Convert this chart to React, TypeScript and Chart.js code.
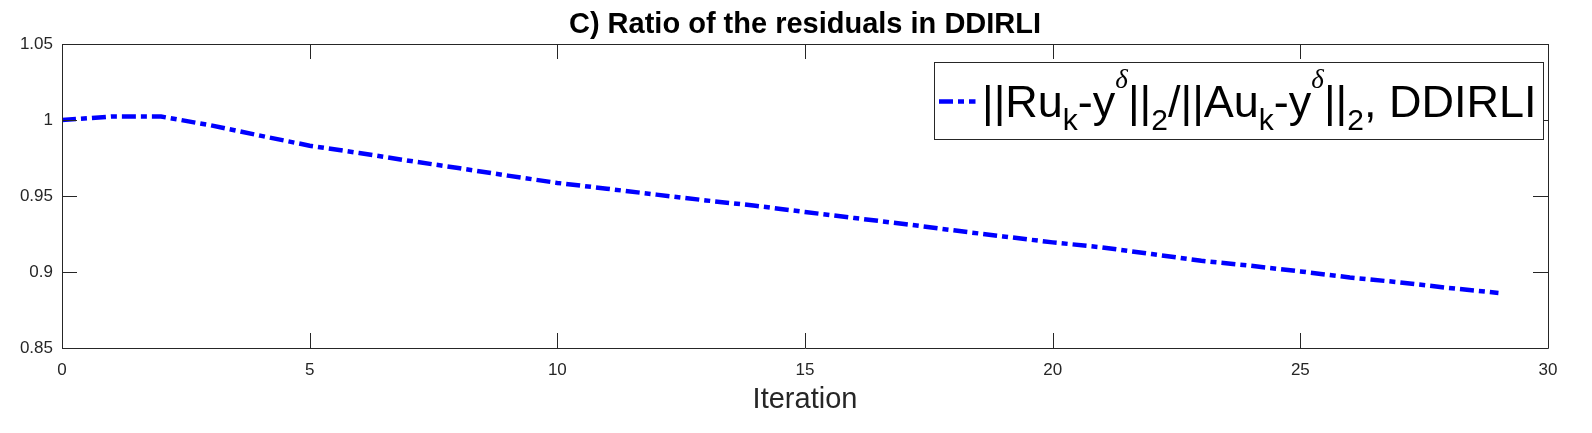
import React, { useEffect, useRef } from "react";
import { Chart, registerables } from "chart.js";

Chart.register(...registerables);

const ITERATIONS = [0, 1, 2, 3, 4, 5, 6, 7, 8, 9, 10, 11, 12, 13, 14, 15, 16, 17, 18, 19, 20, 21, 22, 23, 24, 25, 26, 27, 28, 29];
const RATIO = [
  1.0, 1.0023, 1.0023, 0.9965, 0.9897, 0.9831, 0.9783, 0.9732, 0.9684, 0.9634,
  0.9586, 0.9548, 0.9509, 0.9471, 0.9436, 0.9395, 0.9355, 0.9316, 0.9274, 0.9234,
  0.9195, 0.9162, 0.9118, 0.9074, 0.9041, 0.9004, 0.8964, 0.8932, 0.8895, 0.8862,
];
const X_MIN = 0;
const X_MAX = 30;
const X_STEP = 5;
const Y_MIN = 0.85;
const Y_MAX = 1.05;
const Y_STEP = 0.05;
const TITLE = "C) Ratio of the residuals in DDIRLI";
const X_LABEL = "Iteration";
// legend label ||Ru_k-y^δ||_2/||Au_k-y^δ||_2, DDIRLI split into TeX-like runs
const LEGEND_RUNS: [string, "main" | "sub" | "sup"][] = [
  ["||Ru", "main"], ["k", "sub"], ["-y", "main"], ["δ", "sup"], ["||", "main"], ["2", "sub"],
  ["/||Au", "main"], ["k", "sub"], ["-y", "main"], ["δ", "sup"], ["||", "main"], ["2", "sub"],
  [", DDIRLI", "main"],
];

const AXIS_COLOR = "#262626";
const LINE_COLOR = "#0000ff";
const DASH = [14, 5, 6, 5];
const FONT = "'Liberation Sans', Arial, Helvetica, sans-serif";

const boxTicksPlugin = {
  id: "boxTicks",
  afterDatasetsDraw(chart: any) {
    const { ctx, chartArea } = chart;
    const { left, right, top, bottom } = chartArea;
    const xs = chart.scales.x;
    const ys = chart.scales.y;
    const TL = 15;
    ctx.save();
    ctx.strokeStyle = AXIS_COLOR;
    ctx.lineWidth = 1;
    ctx.beginPath();
    ctx.rect(Math.round(left) + 0.5, Math.round(top) + 0.5, Math.round(right - left), Math.round(bottom - top));
    xs.ticks.forEach((t: any) => {
      const px = Math.round(xs.getPixelForValue(t.value)) + 0.5;
      ctx.moveTo(px, bottom);
      ctx.lineTo(px, bottom - TL);
      ctx.moveTo(px, top);
      ctx.lineTo(px, top + TL);
    });
    ys.ticks.forEach((t: any) => {
      const py = Math.round(ys.getPixelForValue(t.value)) + 0.5;
      ctx.moveTo(left, py);
      ctx.lineTo(left + TL, py);
      ctx.moveTo(right, py);
      ctx.lineTo(right - TL, py);
    });
    ctx.stroke();
    ctx.restore();
  },
};

const texLegendPlugin = {
  id: "texLegend",
  afterDraw(chart: any) {
    const { ctx, chartArea } = chart;
    const SX = 1;
    const mainFont = `45px ${FONT}`;
    const subFont = `30px ${FONT}`;
    const supFont = `italic 27px 'Liberation Serif', 'DejaVu Serif', serif`;
    ctx.save();
    let w = 0;
    LEGEND_RUNS.forEach(([t, k]) => {
      ctx.font = k === "main" ? mainFont : k === "sub" ? subFont : supFont;
      w += ctx.measureText(t).width;
    });
    const textW = w * SX;
    const boxRight = Math.round(chartArea.right - 5) + 0.5;
    const boxTop = Math.round(chartArea.top + 17.7) + 0.5;
    const boxH = 77;
    const textX = boxRight - 7 - textW;
    const boxLeft = Math.round(textX - 48) + 0.5;
    ctx.fillStyle = "#ffffff";
    ctx.fillRect(boxLeft, boxTop, boxRight - boxLeft, boxH);
    ctx.strokeStyle = AXIS_COLOR;
    ctx.lineWidth = 1;
    ctx.strokeRect(boxLeft, boxTop, boxRight - boxLeft, boxH);
    // line sample
    const midY = boxTop + 39;
    ctx.strokeStyle = LINE_COLOR;
    ctx.lineWidth = 4.5;
    ctx.lineCap = "butt";
    ctx.setLineDash(DASH);
    ctx.beginPath();
    ctx.moveTo(boxLeft + 4.5, midY);
    ctx.lineTo(boxLeft + 41, midY);
    ctx.stroke();
    ctx.setLineDash([]);
    // text
    const baseline = boxTop + 54.5;
    ctx.fillStyle = "#000000";
    ctx.textBaseline = "alphabetic";
    ctx.textAlign = "left";
    ctx.translate(textX, baseline);
    ctx.scale(SX, 1);
    let cx = 0;
    LEGEND_RUNS.forEach(([t, k]) => {
      ctx.font = k === "main" ? mainFont : k === "sub" ? subFont : supFont;
      const dy = k === "main" ? 0 : k === "sub" ? 13 : -29;
      ctx.fillText(t, cx, dy);
      cx += ctx.measureText(t).width;
    });
    ctx.restore();
  },
};

export default function App() {
  const canvasRef = useRef<HTMLCanvasElement | null>(null);

  useEffect(() => {
    const canvas = canvasRef.current;
    if (!canvas) return;
    const data = ITERATIONS.map((x, i) => ({ x, y: RATIO[i] }));
    const chart = new Chart(canvas, {
      type: "line",
      data: {
        datasets: [
          {
            label: "ratio",
            data,
            borderColor: LINE_COLOR,
            backgroundColor: LINE_COLOR,
            borderWidth: 4.5,
            borderDash: DASH,
            borderCapStyle: "butt",
            pointRadius: 0,
            tension: 0,
            fill: false,
          },
        ],
      },
      options: {
        animation: false,
        responsive: false,
        devicePixelRatio: 1,
        layout: { padding: { top: 0, left: 0, right: 44, bottom: 0 } },
        plugins: {
          legend: { display: false },
          tooltip: { enabled: false },
          title: {
            display: true,
            text: TITLE,
            fullSize: false,
            color: "#000000",
            font: { family: FONT, size: 29, weight: "bold", lineHeight: 1.2 },
            padding: { top: 7.6, bottom: 1.6 },
          },
        },
        scales: {
          x: {
            type: "linear",
            min: X_MIN,
            max: X_MAX,
            grid: { display: false, drawTicks: false },
            border: { display: false },
            ticks: {
              stepSize: X_STEP,
              color: AXIS_COLOR,
              padding: 12,
              maxRotation: 0,
              font: { family: FONT, size: 17 },
              callback: (v: any) => String(Number(Number(v).toFixed(2))),
            },
            title: {
              display: true,
              text: X_LABEL,
              color: AXIS_COLOR,
              font: { family: FONT, size: 29 },
              padding: { top: 0, bottom: 16 },
            },
            afterFit: (s: any) => {
              s.height = 85;
            },
          },
          y: {
            type: "linear",
            min: Y_MIN,
            max: Y_MAX,
            grid: { display: false, drawTicks: false },
            border: { display: false },
            ticks: {
              stepSize: Y_STEP,
              color: AXIS_COLOR,
              padding: 9,
              font: { family: FONT, size: 17 },
              callback: (v: any) => String(Number(Number(v).toFixed(2))),
            },
            afterFit: (s: any) => {
              s.width = 62;
            },
          },
        },
      },
      plugins: [boxTicksPlugin, texLegendPlugin],
    });
    return () => chart.destroy();
  }, []);

  return (
    <div style={{ position: "fixed", left: 0, top: 0, width: 1592, height: 433, background: "#ffffff" }}>
      <canvas ref={canvasRef} width={1592} height={433} style={{ width: 1592, height: 433, display: "block" }} />
    </div>
  );
}
